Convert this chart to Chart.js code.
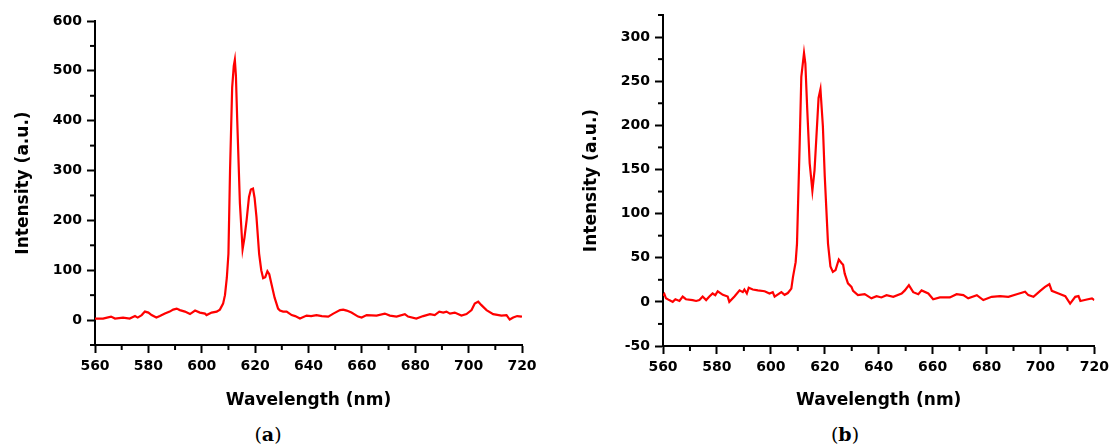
<!DOCTYPE html>
<html lang="en">
<head>
    <meta charset="UTF-8">
    <title>Emission spectra (a) and (b)</title>
    <script src="https://cdn.jsdelivr.net/npm/chart.js"></script>
    <style>
        body { margin: 0; background: #fff; width: 1110px; height: 446px; position: relative; overflow: hidden; }
        .panel { position: absolute; top: 0; }
        .caption { position: absolute; top: 423px; width: 80px; text-align: center; font-family: "DejaVu Serif", serif; font-size: 19px; color: #000; }
        .caption b { font-weight: bold; }
    </style>
</head>
<body>
    <canvas id="chart-a" class="panel" width="550" height="420" style="left:0px"></canvas>
    <canvas id="chart-b" class="panel" width="554" height="420" style="left:560px"></canvas>
    <div class="caption" style="left:228px">(<b>a</b>)</div>
    <div class="caption" style="left:805px">(<b>b</b>)</div>

    <script>
        // spectrum (a)
        const wavelengthA = [560, 563, 566, 567.5, 570.5, 573, 575, 576, 577.5, 578.7, 580, 581.2, 583, 584.3, 586.2, 588, 589.3, 590.6, 591.8, 593.7, 595.6, 597.5, 599.3, 601.2, 601.8, 603.7, 605.6, 606.8, 608, 608.7, 609.4, 610, 610.6, 611.4, 612, 612.4, 612.8, 613.3, 614.3, 615.3, 616, 616.8, 617.7, 618.4, 619.2, 619.8, 620.5, 621.5, 622.3, 623, 623.8, 624.6, 625.3, 626.1, 627.3, 628.6, 629.3, 630.5, 631.8, 633.7, 635, 636.8, 639.3, 641, 643, 645, 647.4, 649.3, 651.8, 653, 654.3, 656.1, 658.6, 659.9, 661.8, 665.5, 668.6, 670.5, 673, 676.1, 677.3, 680.4, 683, 685.5, 687.3, 689, 690.5, 691.7, 693, 694.8, 697.3, 699.2, 701.1, 702.3, 703.6, 704.8, 706.7, 709.2, 712.3, 714.2, 715.4, 716.7, 718.2, 719.8, 720];
        const intensityA = [3, 3, 7, 3, 5, 3, 8, 5, 10, 17, 15, 10, 5, 8, 13, 17, 21, 23, 20, 17, 12, 19, 15, 13, 10, 15, 17, 21, 33, 50, 85, 133, 300, 467, 510, 522, 490, 400, 234, 142, 165, 200, 247, 262, 264, 245, 207, 133, 100, 84, 86, 98, 92, 73, 45, 23, 19, 17, 17, 10, 8, 3, 9, 8, 10, 8, 7, 13, 20, 21, 19, 15, 7, 5, 10, 9, 13, 9, 7, 12, 7, 3, 8, 12, 10, 17, 15, 17, 13, 15, 9, 12, 20, 33, 37, 30, 20, 12, 9, 10, 1, 5, 8, 7, 6];

        // spectrum (b)
        const wavelengthB = [560, 560.5, 561.1, 562.3, 563.6, 564.6, 566.1, 567.3, 568.5, 571, 572.3, 573.5, 574.7, 576, 577.2, 578.4, 579.4, 580.3, 582.2, 584, 584.6, 586.5, 588.4, 589.6, 590.2, 591.1, 591.8, 593.3, 595.2, 597.7, 599.5, 600.7, 601.4, 603.9, 605.1, 606.3, 607.6, 608.2, 609.2, 609.7, 610.7, 611.3, 612.3, 612.8, 613.5, 614.4, 615.4, 616.2, 616.9, 617.7, 618.4, 619.3, 620, 621.2, 622.1, 623, 624, 625.2, 626.2, 626.8, 627.4, 628.6, 629.9, 630.5, 632.3, 634.8, 637.3, 639.2, 641, 642.9, 645.4, 648.5, 649.7, 651.2, 652.8, 654.7, 655.9, 658.4, 660.2, 662.7, 666.4, 668.9, 671.4, 673.2, 676.4, 678.8, 681.9, 685, 688.1, 691.2, 694.3, 695.5, 697.4, 699.9, 701.7, 703.3, 704.2, 706.7, 709.2, 711, 712.9, 714.1, 714.8, 717.2, 719.1, 720];
        const intensityB = [7, 9, 4, 2, 0, 3, 1, 6, 3, 2, 1, 2, 6, 2, 6, 9.5, 7.6, 12, 8, 6, 0, 6, 13, 11, 14, 9.5, 16, 14, 13, 12, 9.5, 11, 6, 11, 8, 10, 15, 28, 45, 66, 180, 255, 282, 270, 218, 157, 126, 149, 187, 231, 241, 199, 142, 66, 40, 34, 36, 48, 44, 42, 32, 21, 17, 12.5, 7.6, 8.7, 4, 6.5, 5, 7.6, 5.7, 9.5, 13, 19, 11, 8.7, 13, 9.5, 3, 5, 5, 8.7, 7.6, 4, 7.6, 2, 5.7, 6.5, 5.7, 8.7, 11.4, 7.6, 5.7, 12.5, 17, 20, 12.5, 9.5, 6.5, -2, 5.7, 6.5, 1, 2.7, 4, 2];

        // ticks
        const xTicks = [560, 580, 600, 620, 640, 660, 680, 700, 720];
        const xMinor = [570, 590, 610, 630, 650, 670, 690, 710];
        const yTicksA = [0, 100, 200, 300, 400, 500, 600];
        const yMinorA = [-50, 50, 150, 250, 350, 450, 550];
        const yTicksB = [-50, 0, 50, 100, 150, 200, 250, 300];
        const yMinorB = [-25, 25, 75, 125, 175, 225, 275, 325];

        const tickFont = { family: 'DejaVu Sans', size: 14, weight: 'bold' };
        const titleFont = { family: 'DejaVu Sans', size: 17, weight: 'bold' };

        const minorTicks = {
            id: 'minorTicks',
            afterDraw(chart, args, opts) {
                const ctx = chart.ctx;
                const sx = chart.scales.x, sy = chart.scales.y;
                ctx.save();
                ctx.strokeStyle = '#000';
                ctx.lineWidth = 2;
                opts.x.forEach(v => {
                    const px = sx.getPixelForValue(v);
                    ctx.beginPath();
                    ctx.moveTo(px, sx.top);
                    ctx.lineTo(px, sx.top + 5);
                    ctx.stroke();
                });
                opts.y.forEach(v => {
                    const py = sy.getPixelForValue(v);
                    ctx.beginPath();
                    ctx.moveTo(sy.right, py);
                    ctx.lineTo(sy.right - 5, py);
                    ctx.stroke();
                });
                ctx.restore();
            }
        };

        function makeChart(id, xs, ys, yMin, yMax, yTicks, yMinor, axisW, xH, pad, yTitlePad) {
            const points = xs.map((w, i) => ({ x: w, y: ys[i] }));
            return new Chart(document.getElementById(id), {
                type: 'line',
                data: {
                    datasets: [{
                        data: points,
                        borderColor: '#ff0000',
                        borderWidth: 2.2,
                        pointRadius: 0,
                        tension: 0,
                        fill: false
                    }]
                },
                options: {
                    responsive: false,
                    animation: false,
                    layout: { padding: pad },
                    plugins: {
                        legend: { display: false },
                        tooltip: { enabled: false },
                        minorTicks: { x: xMinor, y: yMinor }
                    },
                    scales: {
                        x: {
                            type: 'linear',
                            min: 560,
                            max: 720,
                            afterBuildTicks: s => { s.ticks = xTicks.map(v => ({ value: v })); },
                            afterFit: s => { s.height = xH; },
                            ticks: { font: tickFont, color: '#000', padding: 5, maxRotation: 0, autoSkip: false },
                            grid: { drawOnChartArea: false, drawTicks: true, tickLength: 8, tickWidth: 2, tickColor: '#000' },
                            border: { display: true, color: '#000', width: 2 },
                            title: { display: true, text: 'Wavelength (nm)', font: titleFont, color: '#000', padding: { top: 0, bottom: 9 } }
                        },
                        y: {
                            min: yMin,
                            max: yMax,
                            afterBuildTicks: s => { s.ticks = yTicks.map(v => ({ value: v })); },
                            afterFit: s => { s.width = axisW; },
                            ticks: { font: tickFont, color: '#000', padding: 5, autoSkip: false },
                            grid: { drawOnChartArea: false, drawTicks: true, tickLength: 8, tickWidth: 2, tickColor: '#000' },
                            border: { display: true, color: '#000', width: 2 },
                            title: { display: true, text: 'Intensity (a.u.)', font: titleFont, color: '#000', padding: { top: yTitlePad, bottom: 0 } }
                        }
                    }
                },
                plugins: [minorTicks]
            });
        }

        makeChart('chart-a', wavelengthA, intensityA, -50, 600, yTicksA, yMinorA, 95, 75, { left: 0, top: 21, right: 28, bottom: 0 }, 13.5);
        makeChart('chart-b', wavelengthB, intensityB, -50, 325, yTicksB, yMinorB, 103, 74, { left: 0, top: 15, right: 16, bottom: 0 }, 21.5);
    </script>
</body>
</html>
